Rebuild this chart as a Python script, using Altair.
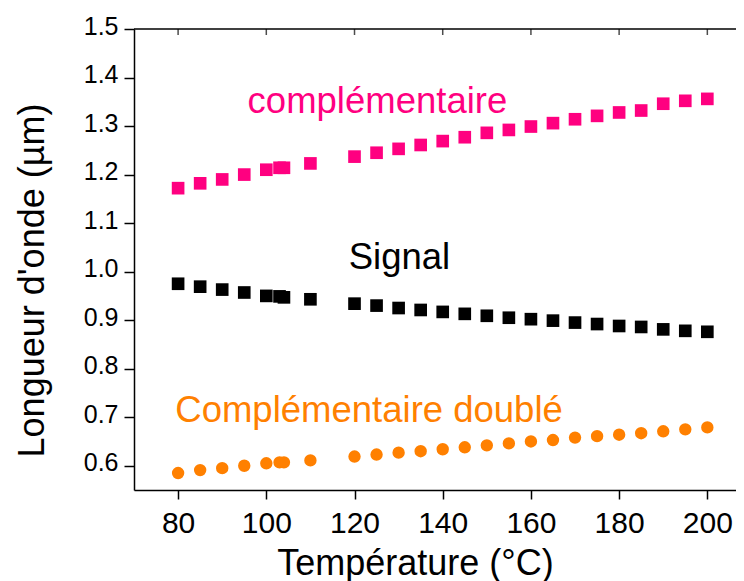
import altair as alt
import pandas as pd

# Data
temperature = [80, 85, 90, 95, 100, 103, 104, 110, 120, 125, 130, 135, 140,
               145, 150, 155, 160, 165, 170, 175, 180, 185, 190, 195, 200]
complementaire = [1.172, 1.182, 1.190, 1.200, 1.210, 1.214, 1.214, 1.223, 1.237,
                  1.245, 1.253, 1.261, 1.269, 1.277, 1.286, 1.292, 1.299, 1.306,
                  1.314, 1.321, 1.328, 1.332, 1.346, 1.352, 1.356]
signal = [0.975, 0.969, 0.963, 0.957, 0.950, 0.949, 0.947, 0.943, 0.934, 0.930,
          0.925, 0.921, 0.917, 0.913, 0.909, 0.905, 0.902, 0.899, 0.895, 0.892,
          0.888, 0.886, 0.881, 0.878, 0.876]
double = [0.585, 0.591, 0.595, 0.600, 0.605, 0.607, 0.607, 0.611, 0.619, 0.623,
          0.627, 0.630, 0.634, 0.638, 0.642, 0.646, 0.650, 0.653, 0.658, 0.661,
          0.664, 0.667, 0.671, 0.675, 0.679]

label_text = ["complémentaire", "Signal", "Complémentaire doublé"]
label_x = [125.2, 130.2, 123.3]
label_y = [1.326, 1.006, 0.691]
series_colors = ["#FF0080", "#000000", "#FF8000"]

x_ticks = [80, 100, 120, 140, 160, 180, 200]
y_ticks = [0.6, 0.7, 0.8, 0.9, 1.0, 1.1, 1.2, 1.3, 1.4, 1.5]
y_top = [1.5]

FONT = "Liberation Sans"

sq = pd.DataFrame({
    "T": temperature * 2,
    "L": complementaire + signal,
    "s": [label_text[0]] * len(temperature) + [label_text[1]] * len(temperature),
})
ci = pd.DataFrame({"T": temperature, "L": double, "s": [label_text[2]] * len(temperature)})
lab = pd.DataFrame({"T": label_x, "L": label_y, "s": label_text})
top_df = pd.DataFrame({"L": y_top})
top_ticks = pd.DataFrame({"T": x_ticks, "L": y_top * len(x_ticks)})

xdom = [70, 206.5]
ydom = [0.55, 1.5]

color_scale = alt.Scale(domain=label_text, range=series_colors)

xaxis = alt.Axis(values=x_ticks, title="Température (°C)", grid=False,
                 labelFont=FONT, labelFontSize=30, labelColor="black",
                 labelBaseline="alphabetic", labelPadding=33,
                 tickSize=9, tickColor="black", tickWidth=1.5,
                 domainColor="black", domainWidth=1.5,
                 titleFont=FONT, titleFontSize=36, titleFontWeight="normal",
                 titleColor="black", titleX=281, titleY=84, titleAnchor="middle",
                 titleAlign="center", titleBaseline="alphabetic")
yaxis = alt.Axis(values=y_ticks, format=".1f", title="Longueur d'onde (µm)", grid=False,
                 labelFont=FONT, labelFontSize=25, labelColor="black",
                 labelPadding=6, labelOffset=-3,
                 tickSize=10, tickColor="black", tickWidth=1.5,
                 domainColor="black", domainWidth=1.5,
                 titleFont=FONT, titleFontSize=36, titleFontWeight="normal",
                 titleColor="black", titleX=-91, titleY=251, titleAngle=-90,
                 titleAlign="center", titleBaseline="alphabetic")

x_enc = alt.X("T:Q", scale=alt.Scale(domain=xdom, nice=False, zero=False), axis=xaxis)
y_enc = alt.Y("L:Q", scale=alt.Scale(domain=ydom, nice=False, zero=False), axis=yaxis)

squares = alt.Chart(sq).mark_square(size=160, opacity=1).encode(
    x=x_enc, y=y_enc,
    color=alt.Color("s:N", scale=color_scale, legend=None),
)
circles = alt.Chart(ci).mark_circle(size=154, opacity=1).encode(
    x=alt.X("T:Q"), y=alt.Y("L:Q"),
    color=alt.Color("s:N", scale=color_scale, legend=None),
)
texts = alt.Chart(lab).mark_text(font=FONT, fontSize=36.5, align="center",
                                 baseline="alphabetic").encode(
    x=alt.X("T:Q"), y=alt.Y("L:Q"), text="s:N",
    color=alt.Color("s:N", scale=color_scale, legend=None),
)
top_line = alt.Chart(top_df).mark_rule(color="black", strokeWidth=1.5).encode(
    y=alt.Y("L:Q"),
)
top_tick_marks = alt.Chart(top_ticks).mark_tick(
    color="black", thickness=1.5, size=6, yOffset=3, orient="vertical"
).encode(
    x=alt.X("T:Q"), y=alt.Y("L:Q"),
)

chart = alt.layer(squares, circles, texts, top_line, top_tick_marks).properties(
    width=602, height=461,
    autosize=alt.AutoSizeParams(type="none"),
    padding={"left": 126, "top": 21, "right": 0, "bottom": 92},
).configure_view(stroke=None)

chart.save("out.html", embed_options={"renderer": "svg", "actions": False})
